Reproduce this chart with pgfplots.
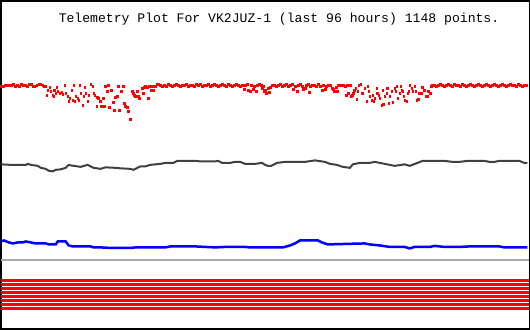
\documentclass[border=0pt]{standalone}
\usepackage{fontspec}
\usepackage{pgfplots}
\pgfplotsset{compat=1.18}
\newfontfamily\titlefont{Liberation Mono}
\definecolor{darkline}{HTML}{404040}
\definecolor{sepgray}{HTML}{AAAAAA}
\definecolor{dotred}{HTML}{FF0000}
\begin{document}
\begin{tikzpicture}
\begin{axis}[
  width=528bp, height=328bp, scale only axis,
  xmin=0, xmax=530, ymin=0, ymax=330, y dir=reverse,
  ticks=none,
  axis line style={line width=1.5bp, black},
]
% red scatter series
\addplot[dotred, only marks, mark=square*, mark size=0.9bp, mark options={solid, draw=none, fill=dotred}] table[row sep=\\] {
x y\\
0 86\\ 2 86\\ 4 85\\ 6 85\\ 8 85\\ 10 85\\ 12 84\\ 14 86\\ 16 85\\ 18 86\\ 20 84\\ 22 85\\ 24 85\\ 26 86\\ 28 84\\ 30 84\\ 32 86\\ 34 86\\ 36 85\\ 38 84\\ 40 84\\ 42 85\\
43 86\\ 45 86\\ 46 95\\ 47 90\\ 49 87\\ 50 91\\ 52 95\\ 53 96\\ 53.5 90\\ 55 93\\ 56 87\\ 57 91\\ 59 93\\ 61 92\\ 62 94\\ 64 85\\ 65 93\\ 67 96\\ 68 101\\ 69 98\\ 71 90\\ 72 100\\ 73 85\\ 74 101\\ 75 96\\ 77 98\\ 78 100\\ 79 85\\ 80 93\\ 82 105\\ 83 96\\ 84 87\\ 85 93\\ 87 101\\ 88 95\\ 90 84\\ 92 86\\ 93 93\\ 94 95\\ 96 106\\ 97 97\\ 98 98\\ 100 101\\ 101 106\\ 103 98\\ 104 106\\ 105 86\\ 107 91\\ 108 85\\ 109 107\\ 111 90\\ 113 102\\ 114 110\\ 115 97\\ 117 96\\ 118 86\\ 119 110\\ 121 91\\ 123 86\\ 124 103\\ 125 106\\ 127 107\\ 128 111\\ 130 119\\ 132 91\\ 133 93\\ 134 95\\ 135 96\\ 137 91\\ 138 96\\ 139 98\\ 142 88\\ 143 93\\ 144 87\\ 145 86\\ 147 87\\ 148 98\\ 149 86\\ 151 90\\ 152 86\\ 153 90\\ 155 86\\ 157 84\\ 158 84\\
160 85\\ 162 86\\ 164 85\\ 166 86\\ 168 84\\ 170 85\\ 172 86\\ 174 85\\ 176 84\\ 178 85\\ 180 86\\ 182 85\\ 184 85\\ 186 84\\ 188 86\\ 190 85\\ 192 85\\ 194 86\\ 196 84\\ 198 85\\ 200 84\\ 202 86\\ 204 85\\ 206 85\\ 208 84\\ 210 86\\ 212 85\\ 214 84\\ 216 85\\ 218 86\\ 220 85\\ 222 84\\ 224 85\\ 226 86\\ 228 84\\ 230 85\\ 232 86\\ 234 85\\ 236 84\\ 238 85\\ 240 86\\ 242 85\\ 244 89\\ 245 85\\ 247 84\\ 248 90\\ 250 91\\ 251 85\\ 253 89\\ 254 86\\ 256 91\\ 257 85\\ 259 84\\ 261 85\\ 262 88\\ 263 86\\ 264 91\\
265 90\\ 266 93\\ 268 88\\ 269 92\\ 270 87\\ 272 85\\ 274 85\\ 276 86\\ 278 85\\ 280 84\\ 282 86\\ 284 85\\ 286 84\\ 288 86\\ 290 85\\ 292 84\\ 293 89\\ 295 86\\ 297 91\\ 298 85\\ 300 84\\ 302 86\\ 303 89\\ 305 88\\ 306 85\\ 308 84\\ 309 92\\ 310 86\\ 312 85\\ 314 85\\ 316 86\\ 318 84\\ 320 86\\ 322 90\\ 323 85\\ 325 89\\ 326 86\\ 328 85\\ 330 85\\ 332 88\\ 333 89\\ 334 91\\ 336 87\\ 337 91\\ 338 85\\ 340 85\\ 342 85\\ 343 85\\ 345 86\\
346 95\\ 347 85\\ 348 93\\ 350 85\\ 351 96\\ 352 95\\ 353 93\\ 354 90\\ 356 88\\ 357 99\\ 358 91\\ 359 85\\ 361 84\\ 362 93\\ 363 93\\ 365 88\\ 367 101\\ 368 86\\ 369 91\\ 370 96\\ 372 100\\ 373 95\\ 374 101\\ 375 98\\ 377 88\\ 377.5 93\\ 379 95\\ 380 98\\ 382 105\\ 383 90\\ 383.5 104\\ 385 96\\ 387 93\\ 387.5 88\\ 389 103\\ 390 96\\ 392 91\\ 393 102\\ 395 88\\ 396 91\\ 397 86\\ 398 98\\ 400 93\\ 401 86\\ 402 90\\ 403 91\\ 404 96\\ 405 100\\ 407 101\\ 408 93\\ 409 91\\ 410 85\\ 412 88\\ 413 91\\ 415 86\\ 416 91\\ 417 100\\ 419 99\\ 420 93\\ 422 93\\ 423 87\\ 425 90\\ 427 96\\ 428 96\\ 429 91\\ 431 93\\ 432 86\\
433 85\\ 435 85\\ 437 86\\ 439 85\\ 441 84\\ 443 85\\ 445 86\\ 447 85\\ 449 84\\ 451 85\\ 453 86\\ 455 84\\ 457 85\\ 459 85\\ 461 86\\ 463 84\\ 465 85\\ 467 86\\ 469 85\\ 471 84\\ 473 85\\ 475 86\\ 477 85\\ 479 84\\ 481 85\\ 483 86\\ 485 85\\ 487 84\\ 489 85\\ 491 86\\ 493 85\\ 495 84\\ 497 85\\ 499 86\\ 501 85\\ 503 84\\ 505 85\\ 507 86\\ 509 85\\ 511 84\\ 513 85\\ 515 85\\ 517 86\\ 519 84\\ 521 85\\ 523 86\\ 525 85\\ 527 85\\
};
% dark grey series
\addplot[darkline, line width=2bp, no marks] table[row sep=\\] {
x y\\
0 164.5\\ 10 165\\ 20 165\\ 25 165\\ 27 164\\ 30 165\\ 37 166\\ 40 168\\ 45 169\\ 48 171\\ 52 171.5\\ 55 170\\ 60 169.5\\ 65 168\\ 68 165\\ 70 165.5\\ 73 166\\ 80 167\\ 87 165\\ 93 168\\ 100 169\\ 105 167.5\\ 115 168\\ 120 168.5\\ 130 169\\ 133 170\\ 140 166.5\\ 145 166.5\\ 150 165\\ 160 164\\ 165 163\\ 173 163\\ 177 161\\ 195 161\\ 200 161.5\\ 215 161.5\\ 218 161\\ 222 163\\ 230 163\\ 235 162\\ 240 162\\ 245 164\\ 255 164\\ 262 163\\ 265 165\\ 268 166\\ 271 166\\ 277 163\\ 285 162\\ 305 162\\ 315 160.5\\ 325 162\\ 330 164\\ 337 165\\ 343 167\\ 350 168\\ 353 164.5\\ 360 163\\ 370 163\\ 375 162\\ 380 163\\ 390 165\\ 395 166\\ 405 164.5\\ 410 166\\ 418 163\\ 423 161\\ 445 161\\ 453 162\\ 460 162\\ 468 161\\ 485 161\\ 490 162\\ 495 162\\ 500 161\\ 520 161\\ 525 163\\ 528 163\\
};
% blue series
\addplot[blue, line width=2.5bp, no marks] table[row sep=\\] {
x y\\
0 242\\ 3 241\\ 8 243\\ 12 244\\ 17 243\\ 22 243\\ 25 242\\ 30 243\\ 35 244\\ 45 244\\ 48 245\\ 55 245\\ 57 242\\ 65 242\\ 68 246\\ 72 247\\ 90 247\\ 93 248\\ 100 248\\ 110 248.5\\ 130 248.5\\ 135 248\\ 165 248\\ 170 247\\ 195 247\\ 205 247.5\\ 215 248\\ 225 247.5\\ 245 247.5\\ 250 248\\ 283 248\\ 290 246\\ 295 244\\ 300 241\\ 318 241\\ 322 243\\ 328 245\\ 345 244.5\\ 365 244\\ 370 245\\ 380 246\\ 390 247.5\\ 405 247.5\\ 410 249\\ 415 247.5\\ 430 247.5\\ 435 246.5\\ 445 247.5\\ 460 247.5\\ 470 247\\ 500 247\\ 505 248\\ 528 248\\
};
% separator
\addplot[sepgray, line width=2bp, no marks] coordinates {(0,261) (530,261)};
% digital bit lines
\addplot[red, line width=3bp, no marks] coordinates {(0,281.5) (530,281.5)};
\addplot[red, line width=3bp, no marks] coordinates {(0,285.5) (530,285.5)};
\addplot[red, line width=3bp, no marks] coordinates {(0,289.5) (530,289.5)};
\addplot[red, line width=3bp, no marks] coordinates {(0,293.5) (530,293.5)};
\addplot[red, line width=3bp, no marks] coordinates {(0,297.5) (530,297.5)};
\addplot[red, line width=3bp, no marks] coordinates {(0,301.5) (530,301.5)};
\addplot[red, line width=3bp, no marks] coordinates {(0,305.5) (530,305.5)};
\addplot[red, line width=3bp, no marks] coordinates {(0,309.5) (530,309.5)};
\node[font=\titlefont\fontsize{13.1bp}{15bp}\selectfont, anchor=base, inner sep=0pt] at (axis cs:279,21.5) {Telemetry Plot For VK2JUZ-1 (last 96 hours) 1148 points.};
\end{axis}
\end{tikzpicture}
\end{document}
